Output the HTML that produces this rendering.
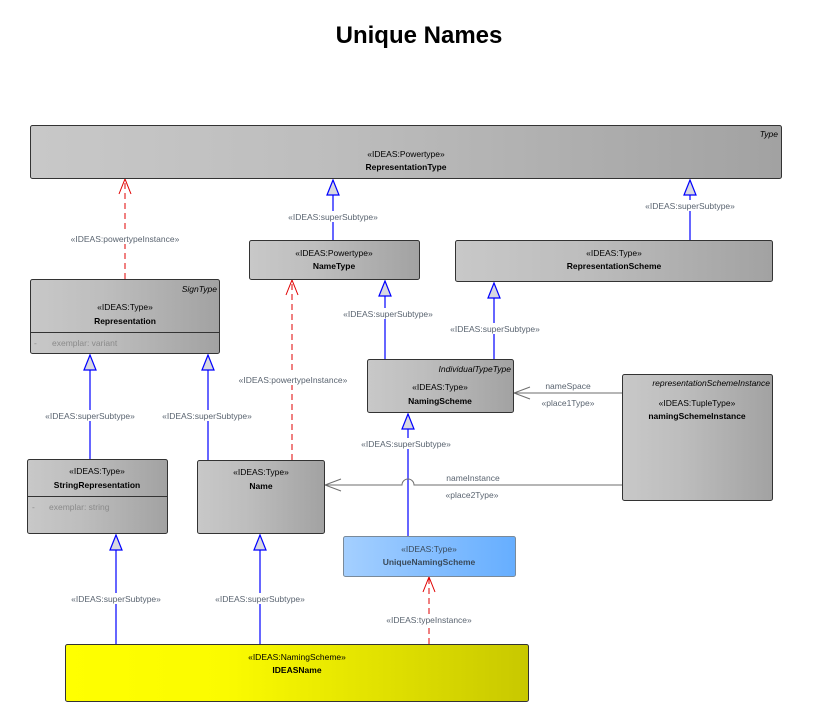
<!DOCTYPE html>
<html><head><meta charset="utf-8"><style>
html,body{margin:0;padding:0;background:#fff;}
svg text{font-family:"Liberation Sans","DejaVu Sans",sans-serif;}
.s{font-size:8.5px;fill:#000;text-anchor:middle;}
.n{font-size:8.5px;font-weight:bold;fill:#000;text-anchor:middle;}
.i{font-size:8.5px;font-style:italic;fill:#000;text-anchor:end;}
.l{font-size:8.5px;fill:#5a6470;text-anchor:middle;}
.a{font-size:8.5px;fill:#8a8a8a;}
.b{stroke:#0000ff;stroke-width:1.2;fill:none;}
.r{stroke:#e00000;stroke-width:1;fill:none;stroke-dasharray:6,4;}
.g{stroke:#6e6e6e;stroke-width:1;fill:none;}
.tri{fill:#d8d8e0;stroke:#0000ff;stroke-width:1.2;}
</style></head><body>
<svg width="833" height="712" viewBox="0 0 833 712" xmlns="http://www.w3.org/2000/svg">
<defs>
<linearGradient id="gr" x1="0" x2="1" y1="0" y2="0"><stop offset="0" stop-color="#c8c8c8"/><stop offset="0.4" stop-color="#bdbdbd"/><stop offset="1" stop-color="#a2a2a2"/></linearGradient>
<linearGradient id="bl" x1="0" x2="1"><stop offset="0" stop-color="#a4cfff"/><stop offset="1" stop-color="#66aeff"/></linearGradient>
<linearGradient id="ye" x1="0" x2="1"><stop offset="0" stop-color="#ffff00"/><stop offset="0.35" stop-color="#fbfb00"/><stop offset="1" stop-color="#c8c800"/></linearGradient>
</defs>
<text x="419" y="43" text-anchor="middle" style="font-size:24px;font-weight:bold;">Unique Names</text>

<!-- connectors -->
<path class="r" d="M125 279 V180"/><path d="M119 194 L125 179 L131 194" stroke="#e00000" fill="none"/>
<path class="b" d="M333 240 V195"/><path class="tri" d="M327 195 L333 180 L339 195 Z"/>
<path class="b" d="M690 240 V195"/><path class="tri" d="M684 195 L690 180 L696 195 Z"/>
<path class="b" d="M385 359 V296"/><path class="tri" d="M379 296 L385 281 L391 296 Z"/>
<path class="b" d="M494 359 V298"/><path class="tri" d="M488 298 L494 283 L500 298 Z"/>
<path class="r" d="M292 460 V281"/><path d="M286 295 L292 280 L298 295" stroke="#e00000" fill="none"/>
<path class="b" d="M90 459 V370"/><path class="tri" d="M84 370 L90 355 L96 370 Z"/>
<path class="b" d="M208 460 V370"/><path class="tri" d="M202 370 L208 355 L214 370 Z"/>
<path class="b" d="M408 536 V429"/><path class="tri" d="M402 429 L408 414 L414 429 Z"/>
<path class="b" d="M116 644 V550"/><path class="tri" d="M110 550 L116 535 L122 550 Z"/>
<path class="b" d="M260 644 V550"/><path class="tri" d="M254 550 L260 535 L266 550 Z"/>
<path class="r" d="M429 644 V578"/><path d="M423 592 L429 577 L435 592" stroke="#e00000" fill="none"/>
<path class="g" d="M622 393 H514"/><path class="g" d="M530 387 L514 393 L530 399"/>
<path class="g" d="M622 485 H414 A6 6 0 0 0 402 485 H325"/><path class="g" d="M341 479 L325 485 L341 491"/>

<!-- labels -->
<g>
<rect x="60" y="233" width="130" height="11" fill="#fff"/><text class="l" x="125" y="242">«IDEAS:powertypeInstance»</text>
<rect x="285" y="211" width="96" height="11" fill="#fff"/><text class="l" x="333" y="220">«IDEAS:superSubtype»</text>
<rect x="632" y="200" width="116" height="11" fill="#fff"/><text class="l" x="690" y="209">«IDEAS:superSubtype»</text>
<rect x="340" y="308" width="96" height="11" fill="#fff"/><text class="l" x="388" y="317">«IDEAS:superSubtype»</text>
<rect x="446" y="323" width="98" height="11" fill="#fff"/><text class="l" x="495" y="332">«IDEAS:superSubtype»</text>
<rect x="232" y="374" width="122" height="11" fill="#fff"/><text class="l" x="293" y="383">«IDEAS:powertypeInstance»</text>
<rect x="42" y="410" width="96" height="11" fill="#fff"/><text class="l" x="90" y="419">«IDEAS:superSubtype»</text>
<rect x="160" y="410" width="96" height="11" fill="#fff"/><text class="l" x="207" y="419">«IDEAS:superSubtype»</text>
<rect x="357" y="438" width="98" height="11" fill="#fff"/><text class="l" x="406" y="447">«IDEAS:superSubtype»</text>
<rect x="68" y="593" width="96" height="11" fill="#fff"/><text class="l" x="116" y="602">«IDEAS:superSubtype»</text>
<rect x="212" y="593" width="96" height="11" fill="#fff"/><text class="l" x="260" y="602">«IDEAS:superSubtype»</text>
<rect x="382" y="614" width="94" height="11" fill="#fff"/><text class="l" x="429" y="623">«IDEAS:typeInstance»</text>
<text class="l" x="568" y="389">nameSpace</text>
<text class="l" x="568" y="406">«place1Type»</text>
<text class="l" x="473" y="481">nameInstance</text>
<text class="l" x="472" y="498">«place2Type»</text>
</g>

<!-- nodes -->
<rect x="30.5" y="125.5" width="751" height="53" rx="2" fill="url(#gr)" stroke="#333"/>
<text class="i" x="778" y="137">Type</text>
<text class="s" x="406" y="157">«IDEAS:Powertype»</text>
<text class="n" x="406" y="170">RepresentationType</text>

<rect x="249.5" y="240.5" width="170" height="39" rx="2" fill="url(#gr)" stroke="#333"/>
<text class="s" x="334" y="256">«IDEAS:Powertype»</text>
<text class="n" x="334" y="269">NameType</text>

<rect x="455.5" y="240.5" width="317" height="41" rx="2" fill="url(#gr)" stroke="#333"/>
<text class="s" x="614" y="256">«IDEAS:Type»</text>
<text class="n" x="614" y="269">RepresentationScheme</text>

<rect x="30.5" y="279.5" width="189" height="74" rx="2" fill="url(#gr)" stroke="#333"/>
<text class="i" x="217" y="292">SignType</text>
<text class="s" x="125" y="310">«IDEAS:Type»</text>
<text class="n" x="125" y="324">Representation</text>
<line x1="30.5" y1="332.5" x2="219.5" y2="332.5" stroke="#333"/>
<text class="a" x="34" y="346">-</text><text class="a" x="52" y="346">exemplar: variant</text>

<rect x="367.5" y="359.5" width="146" height="53" rx="2" fill="url(#gr)" stroke="#333"/>
<text class="i" x="511" y="372">IndividualTypeType</text>
<text class="s" x="440" y="390">«IDEAS:Type»</text>
<text class="n" x="440" y="404">NamingScheme</text>

<rect x="622.5" y="374.5" width="150" height="126" rx="2" fill="url(#gr)" stroke="#333"/>
<text class="i" x="770" y="386">representationSchemeInstance</text>
<text class="s" x="697" y="406">«IDEAS:TupleType»</text>
<text class="n" x="697" y="419">namingSchemeInstance</text>

<rect x="27.5" y="459.5" width="140" height="74" rx="2" fill="url(#gr)" stroke="#333"/>
<text class="s" x="97" y="474">«IDEAS:Type»</text>
<text class="n" x="97" y="488">StringRepresentation</text>
<line x1="27.5" y1="496.5" x2="167.5" y2="496.5" stroke="#333"/>
<text class="a" x="32" y="510">-</text><text class="a" x="49" y="510">exemplar: string</text>

<rect x="197.5" y="460.5" width="127" height="73" rx="2" fill="url(#gr)" stroke="#333"/>
<text class="s" x="261" y="475">«IDEAS:Type»</text>
<text class="n" x="261" y="489">Name</text>

<rect x="343.5" y="536.5" width="172" height="40" rx="2" fill="url(#bl)" stroke="#7a8a9a"/>
<text class="s" x="429" y="552" style="fill:#3a4a5a">«IDEAS:Type»</text>
<text class="n" x="429" y="565" style="fill:#3a4a5a">UniqueNamingScheme</text>

<rect x="65.5" y="644.5" width="463" height="57" rx="2" fill="url(#ye)" stroke="#333"/>
<text class="s" x="297" y="660">«IDEAS:NamingScheme»</text>
<text class="n" x="297" y="673">IDEASName</text>
</svg>
</body></html>
